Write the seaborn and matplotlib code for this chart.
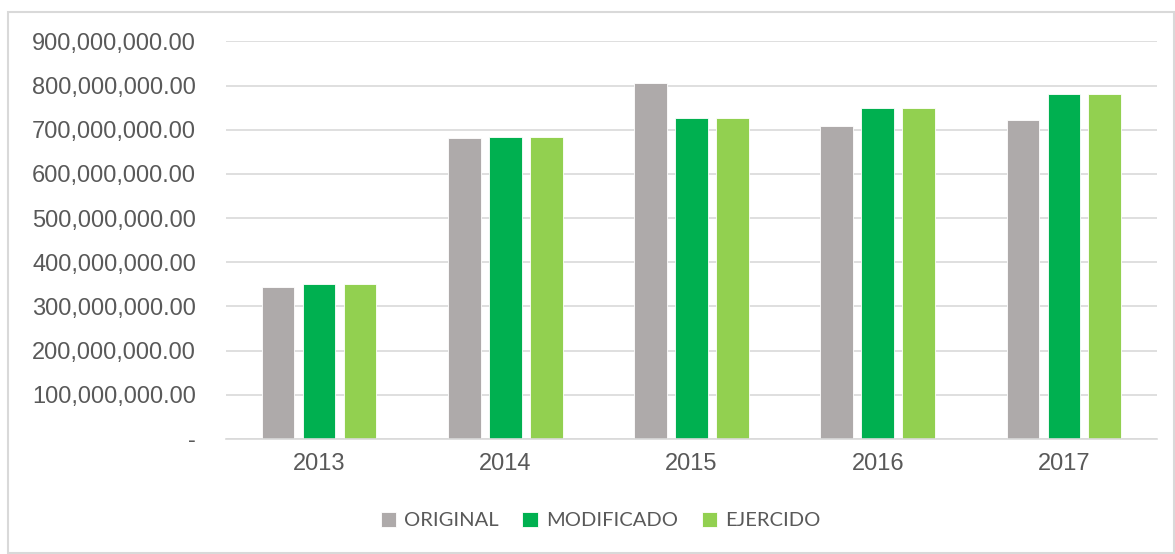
import pandas as pd
import numpy as np
import matplotlib.pyplot as plt
import seaborn as sns
from matplotlib.ticker import FuncFormatter, MultipleLocator
from matplotlib.patches import Rectangle

# data
years = ['2013', '2014', '2015', '2016', '2017']
original = [345e6, 681e6, 806e6, 709e6, 722e6]
modificado = [351e6, 683e6, 726e6, 749e6, 782e6]
ejercido = [351e6, 683e6, 726e6, 749e6, 782e6]
series = ['ORIGINAL', 'MODIFICADO', 'EJERCIDO']
colors = ['#AEAAAA', '#00B050', '#92D050']

df = pd.DataFrame({
    'year': years * 3,
    'serie': [s for s in series for _ in years],
    'value': original + modificado + ejercido,
})

sns.set_style('white')
plt.rcParams['font.family'] = ['Liberation Sans', 'DejaVu Sans']

fig = plt.figure(figsize=(11.75, 5.54), dpi=100)
ax = fig.add_axes([0.1923, 0.2076, 0.7924, 0.7177])

sns.barplot(data=df, x='year', y='value', hue='serie', hue_order=series,
            palette=colors, saturation=1, width=0.66, gap=0.2, ax=ax,
            edgecolor='white', linewidth=0.6, legend=True)

ax.set_ylim(0, 900e6)
ax.yaxis.set_major_locator(MultipleLocator(100e6))
ax.yaxis.set_major_formatter(FuncFormatter(lambda v, p: '-' if v == 0 else f'{v:,.2f}'))
ax.grid(axis='y', color='#D9D9D9', linewidth=1.2)
ax.set_axisbelow(True)
for s in ['top', 'right', 'left']:
    ax.spines[s].set_visible(False)
ax.spines['bottom'].set_color('#D9D9D9')
ax.spines['bottom'].set_linewidth(1.2)
ax.tick_params(axis='both', length=0, colors='#595959', labelsize=17)
ax.tick_params(axis='y', pad=21.5)
ax.tick_params(axis='x', pad=10)
ax.set_xlabel('')
ax.set_ylabel('')

handles, labels = ax.get_legend_handles_labels()
ax.get_legend().remove()
leg = fig.legend(handles, labels, loc='center', bbox_to_anchor=(0.511, 0.06),
                 ncol=3, frameon=False, handlelength=0.75, handleheight=0.75,
                 handletextpad=0.4, columnspacing=1.2,
                 prop={'family': 'Lato', 'size': 14.5})
for t in leg.get_texts():
    t.set_color('#595959')

# chart border
fig.patches.append(Rectangle((8 / 1175, 0.002), 1 - 9 / 1175, 1 - 12 / 554 - 0.002,
                             transform=fig.transFigure, fill=False,
                             edgecolor='#D9D9D9', linewidth=1.5))

fig.savefig('out.png', dpi=100)
